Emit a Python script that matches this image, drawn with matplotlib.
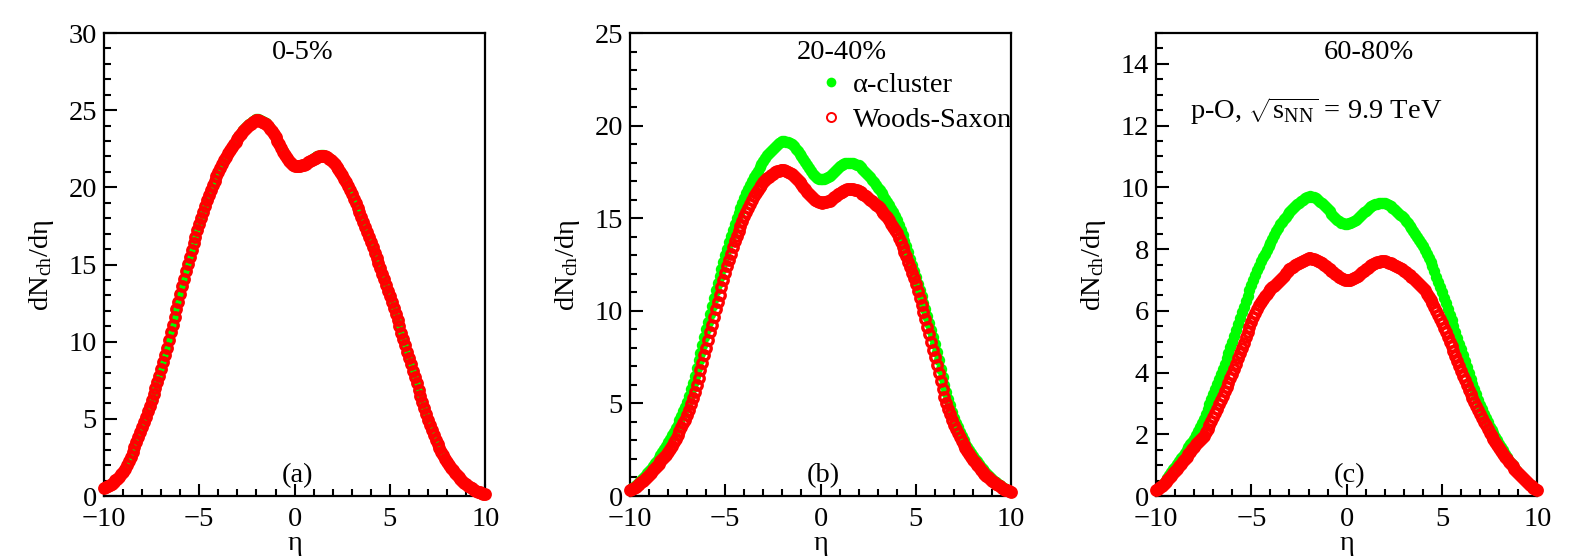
import numpy as np
import matplotlib
matplotlib.use("Agg")
import matplotlib.pyplot as plt
from matplotlib.lines import Line2D
from matplotlib.ticker import MultipleLocator

# pseudorapidity grid (step 0.1)
eta = np.round(np.arange(-10.0, 10.0001, 0.1), 1)

# panel (a) 0-5%
ws_a = [0.50, 0.57, 0.65, 0.73, 0.81, 0.90, 1.01, 1.13, 1.26, 1.40,
        1.55, 1.78, 2.03, 2.29, 2.56, 2.85, 3.16, 3.48, 3.80, 4.12,
        4.45, 4.79, 5.14, 5.49, 5.84, 6.20, 6.58, 6.97, 7.37, 7.78,
        8.20, 8.66, 9.13, 9.61, 10.10, 10.60, 11.10, 11.60, 12.10, 12.60,
        13.10, 13.59, 14.07, 14.55, 15.03, 15.50, 15.94, 16.38, 16.81, 17.23,
        17.65, 18.04, 18.42, 18.79, 19.15, 19.50, 19.82, 20.13, 20.43, 20.72,
        21.00, 21.26, 21.50, 21.75, 21.98, 22.20, 22.40, 22.60, 22.79, 22.97,
        23.15, 23.32, 23.48, 23.63, 23.77, 23.90, 24.02, 24.13, 24.23, 24.31,
        24.35, 24.35, 24.31, 24.25, 24.18, 24.10, 23.97, 23.80, 23.63, 23.45,
        23.25, 23.02, 22.78, 22.55, 22.32, 22.10, 21.90, 21.72, 21.57, 21.46,
        21.40, 21.38, 21.38, 21.40, 21.42, 21.45, 21.53, 21.62, 21.71, 21.79,
        21.85, 21.92, 21.98, 22.03, 22.05, 22.05, 22.02, 21.95, 21.86, 21.76,
        21.65, 21.50, 21.34, 21.17, 20.99, 20.80, 20.57, 20.33, 20.08, 19.82,
        19.55, 19.27, 18.98, 18.69, 18.40, 18.10, 17.78, 17.45, 17.12, 16.79,
        16.45, 16.11, 15.77, 15.43, 15.09, 14.75, 14.39, 14.03, 13.67, 13.31,
        12.95, 12.56, 12.17, 11.78, 11.39, 11.00, 10.59, 10.18, 9.77, 9.36,
        8.95, 8.54, 8.13, 7.72, 7.31, 6.90, 6.50, 6.10, 5.70, 5.32,
        4.95, 4.60, 4.27, 3.95, 3.64, 3.35, 3.10, 2.86, 2.63, 2.41,
        2.20, 2.01, 1.83, 1.66, 1.50, 1.35, 1.22, 1.09, 0.97, 0.86,
        0.75, 0.66, 0.57, 0.49, 0.42, 0.35, 0.29, 0.24, 0.19, 0.15,
        0.12]
alpha_a = [0.50, 0.57, 0.65, 0.73, 0.81, 0.90, 1.01, 1.13, 1.26, 1.40,
           1.55, 1.78, 2.03, 2.29, 2.56, 2.85, 3.16, 3.48, 3.80, 4.12,
           4.45, 4.79, 5.14, 5.49, 5.84, 6.20, 6.58, 6.97, 7.37, 7.78,
           8.20, 8.66, 9.13, 9.61, 10.10, 10.60, 11.10, 11.60, 12.10, 12.60,
           13.10, 13.59, 14.07, 14.55, 15.03, 15.50, 15.94, 16.38, 16.81, 17.23,
           17.65, 18.04, 18.42, 18.79, 19.15, 19.50, 19.82, 20.13, 20.43, 20.72,
           21.00, 21.26, 21.50, 21.75, 21.98, 22.20, 22.40, 22.60, 22.80, 22.99,
           23.18, 23.36, 23.53, 23.69, 23.83, 23.96, 24.08, 24.19, 24.29, 24.37,
           24.41, 24.41, 24.37, 24.31, 24.23, 24.14, 24.00, 23.83, 23.65, 23.46,
           23.26, 23.03, 22.79, 22.56, 22.33, 22.11, 21.91, 21.73, 21.58, 21.47,
           21.41, 21.39, 21.39, 21.41, 21.43, 21.46, 21.54, 21.63, 21.72, 21.80,
           21.87, 21.94, 22.00, 22.05, 22.07, 22.07, 22.04, 21.97, 21.88, 21.78,
           21.66, 21.51, 21.35, 21.18, 20.99, 20.80, 20.57, 20.33, 20.08, 19.82,
           19.55, 19.27, 18.98, 18.69, 18.40, 18.10, 17.78, 17.45, 17.12, 16.79,
           16.45, 16.11, 15.77, 15.43, 15.09, 14.75, 14.39, 14.03, 13.67, 13.31,
           12.95, 12.56, 12.17, 11.78, 11.39, 11.00, 10.59, 10.18, 9.77, 9.36,
           8.95, 8.54, 8.13, 7.72, 7.31, 6.90, 6.50, 6.10, 5.70, 5.32,
           4.95, 4.60, 4.27, 3.95, 3.64, 3.35, 3.10, 2.86, 2.63, 2.41,
           2.20, 2.01, 1.83, 1.66, 1.50, 1.35, 1.22, 1.09, 0.97, 0.86,
           0.75, 0.66, 0.57, 0.49, 0.42, 0.35, 0.29, 0.24, 0.19, 0.15,
           0.12]

# panel (b) 20-40%
alpha_b = [0.35, 0.42, 0.50, 0.58, 0.66, 0.75, 0.86, 0.98, 1.10, 1.22,
           1.35, 1.48, 1.62, 1.76, 1.90, 2.05, 2.21, 2.38, 2.55, 2.72,
           2.90, 3.08, 3.27, 3.46, 3.65, 3.85, 4.08, 4.32, 4.57, 4.83,
           5.10, 5.42, 5.76, 6.12, 6.50, 6.90, 7.32, 7.74, 8.16, 8.58,
           9.00, 9.42, 9.84, 10.26, 10.68, 11.10, 11.49, 11.87, 12.25, 12.62,
           13.00, 13.35, 13.70, 14.04, 14.37, 14.70, 15.00, 15.29, 15.57, 15.84,
           16.10, 16.34, 16.57, 16.79, 17.00, 17.20, 17.39, 17.57, 17.75, 17.93,
           18.10, 18.25, 18.39, 18.52, 18.64, 18.75, 18.85, 18.95, 19.04, 19.11,
           19.15, 19.16, 19.14, 19.10, 19.06, 19.00, 18.89, 18.76, 18.63, 18.49,
           18.35, 18.18, 18.01, 17.85, 17.70, 17.55, 17.41, 17.29, 17.19, 17.13,
           17.10, 17.10, 17.13, 17.18, 17.24, 17.30, 17.41, 17.52, 17.63, 17.72,
           17.80, 17.88, 17.94, 17.98, 18.00, 18.00, 17.99, 17.96, 17.92, 17.89,
           17.85, 17.76, 17.66, 17.56, 17.46, 17.35, 17.22, 17.08, 16.94, 16.80,
           16.65, 16.50, 16.35, 16.20, 16.05, 15.90, 15.71, 15.51, 15.31, 15.11,
           14.90, 14.63, 14.35, 14.07, 13.79, 13.50, 13.16, 12.82, 12.48, 12.14,
           11.80, 11.46, 11.12, 10.78, 10.44, 10.10, 9.72, 9.34, 8.96, 8.58,
           8.20, 7.76, 7.32, 6.88, 6.44, 6.00, 5.62, 5.25, 4.89, 4.54,
           4.20, 3.95, 3.70, 3.46, 3.23, 3.00, 2.82, 2.64, 2.47, 2.31,
           2.15, 2.01, 1.87, 1.73, 1.59, 1.45, 1.34, 1.23, 1.12, 1.01,
           0.90, 0.82, 0.74, 0.66, 0.58, 0.50, 0.44, 0.38, 0.32, 0.27,
           0.22]
ws_b = [0.33, 0.39, 0.45, 0.51, 0.58, 0.65, 0.74, 0.83, 0.92, 1.02,
        1.12, 1.25, 1.38, 1.51, 1.63, 1.75, 1.87, 1.98, 2.10, 2.22,
        2.35, 2.52, 2.70, 2.89, 3.09, 3.30, 3.50, 3.71, 3.92, 4.13,
        4.35, 4.64, 4.95, 5.28, 5.63, 6.00, 6.39, 6.79, 7.19, 7.59,
        8.00, 8.42, 8.84, 9.26, 9.68, 10.10, 10.49, 10.88, 11.27, 11.66,
        12.05, 12.40, 12.74, 13.08, 13.42, 13.75, 14.03, 14.31, 14.58, 14.84,
        15.10, 15.33, 15.56, 15.78, 15.99, 16.20, 16.36, 16.52, 16.67, 16.81,
        16.95, 17.05, 17.15, 17.24, 17.32, 17.40, 17.47, 17.53, 17.57, 17.60,
        17.60, 17.59, 17.56, 17.51, 17.46, 17.40, 17.30, 17.19, 17.08, 16.97,
        16.85, 16.71, 16.57, 16.44, 16.32, 16.20, 16.09, 15.99, 15.92, 15.87,
        15.85, 15.84, 15.85, 15.88, 15.91, 15.95, 16.04, 16.13, 16.22, 16.29,
        16.35, 16.42, 16.49, 16.55, 16.59, 16.60, 16.60, 16.58, 16.54, 16.50,
        16.45, 16.39, 16.32, 16.25, 16.18, 16.10, 16.01, 15.92, 15.83, 15.74,
        15.65, 15.53, 15.41, 15.30, 15.18, 15.05, 14.88, 14.71, 14.54, 14.37,
        14.20, 13.95, 13.70, 13.45, 13.20, 12.95, 12.65, 12.35, 12.05, 11.75,
        11.45, 11.07, 10.69, 10.31, 9.93, 9.55, 9.14, 8.73, 8.32, 7.91,
        7.50, 7.07, 6.64, 6.21, 5.78, 5.35, 5.03, 4.72, 4.42, 4.13,
        3.85, 3.62, 3.40, 3.18, 2.96, 2.75, 2.59, 2.43, 2.27, 2.11,
        1.95, 1.82, 1.69, 1.56, 1.43, 1.30, 1.20, 1.10, 1.00, 0.90,
        0.80, 0.73, 0.66, 0.59, 0.52, 0.45, 0.40, 0.35, 0.30, 0.25,
        0.20]

# panel (c) 60-80%
alpha_c = [0.18, 0.24, 0.30, 0.36, 0.43, 0.50, 0.59, 0.68, 0.77, 0.86,
           0.95, 1.04, 1.13, 1.22, 1.31, 1.40, 1.49, 1.58, 1.67, 1.76,
           1.85, 1.97, 2.10, 2.23, 2.36, 2.50, 2.66, 2.82, 2.98, 3.14,
           3.30, 3.46, 3.62, 3.78, 3.94, 4.10, 4.28, 4.46, 4.64, 4.82,
           5.00, 5.19, 5.38, 5.57, 5.76, 5.95, 6.13, 6.31, 6.49, 6.67,
           6.85, 7.01, 7.16, 7.31, 7.46, 7.60, 7.73, 7.85, 7.97, 8.09,
           8.20, 8.32, 8.45, 8.57, 8.69, 8.80, 8.89, 8.97, 9.05, 9.13,
           9.20, 9.27, 9.33, 9.39, 9.45, 9.50, 9.55, 9.60, 9.64, 9.68,
           9.70, 9.71, 9.70, 9.68, 9.64, 9.60, 9.54, 9.48, 9.42, 9.36,
           9.30, 9.22, 9.15, 9.08, 9.01, 8.95, 8.90, 8.86, 8.83, 8.82,
           8.82, 8.83, 8.85, 8.88, 8.91, 8.95, 9.01, 9.07, 9.13, 9.19,
           9.25, 9.30, 9.35, 9.39, 9.42, 9.45, 9.47, 9.48, 9.49, 9.49,
           9.48, 9.45, 9.42, 9.38, 9.34, 9.30, 9.24, 9.18, 9.12, 9.06,
           9.00, 8.92, 8.84, 8.76, 8.68, 8.60, 8.50, 8.40, 8.30, 8.20,
           8.10, 7.97, 7.84, 7.71, 7.58, 7.45, 7.28, 7.11, 6.94, 6.77,
           6.60, 6.42, 6.24, 6.06, 5.88, 5.70, 5.51, 5.32, 5.13, 4.94,
           4.75, 4.56, 4.37, 4.18, 3.99, 3.80, 3.63, 3.46, 3.29, 3.12,
           2.95, 2.81, 2.67, 2.53, 2.39, 2.25, 2.14, 2.03, 1.92, 1.81,
           1.70, 1.59, 1.48, 1.37, 1.26, 1.15, 1.07, 0.99, 0.91, 0.83,
           0.75, 0.68, 0.62, 0.55, 0.49, 0.42, 0.37, 0.32, 0.27, 0.22,
           0.18]
ws_c = [0.18, 0.23, 0.28, 0.33, 0.39, 0.45, 0.52, 0.59, 0.66, 0.73,
        0.80, 0.88, 0.96, 1.04, 1.12, 1.20, 1.28, 1.36, 1.44, 1.52,
        1.60, 1.67, 1.74, 1.81, 1.88, 1.95, 2.06, 2.18, 2.30, 2.42,
        2.55, 2.69, 2.83, 2.97, 3.11, 3.25, 3.39, 3.53, 3.67, 3.81,
        3.95, 4.12, 4.29, 4.46, 4.63, 4.80, 4.97, 5.14, 5.31, 5.48,
        5.65, 5.79, 5.92, 6.05, 6.18, 6.30, 6.39, 6.48, 6.56, 6.63,
        6.70, 6.76, 6.82, 6.88, 6.94, 7.00, 7.07, 7.14, 7.21, 7.28,
        7.35, 7.39, 7.43, 7.47, 7.51, 7.55, 7.59, 7.63, 7.66, 7.69,
        7.70, 7.70, 7.69, 7.67, 7.65, 7.62, 7.58, 7.54, 7.49, 7.45,
        7.40, 7.35, 7.30, 7.25, 7.20, 7.15, 7.10, 7.06, 7.03, 7.01,
        7.00, 7.00, 7.01, 7.03, 7.05, 7.08, 7.14, 7.20, 7.25, 7.30,
        7.35, 7.40, 7.45, 7.49, 7.52, 7.55, 7.57, 7.59, 7.60, 7.60,
        7.60, 7.58, 7.56, 7.54, 7.52, 7.50, 7.46, 7.42, 7.38, 7.34,
        7.30, 7.25, 7.20, 7.15, 7.10, 7.05, 6.99, 6.93, 6.87, 6.81,
        6.75, 6.66, 6.56, 6.46, 6.36, 6.25, 6.12, 5.99, 5.86, 5.73,
        5.60, 5.45, 5.30, 5.15, 5.00, 4.85, 4.69, 4.53, 4.37, 4.21,
        4.05, 3.90, 3.75, 3.60, 3.45, 3.30, 3.17, 3.04, 2.91, 2.78,
        2.65, 2.53, 2.41, 2.29, 2.17, 2.05, 1.95, 1.85, 1.75, 1.65,
        1.55, 1.46, 1.37, 1.28, 1.19, 1.10, 1.03, 0.96, 0.89, 0.82,
        0.75, 0.68, 0.62, 0.55, 0.49, 0.42, 0.37, 0.32, 0.27, 0.22,
        0.18]

panels = [
    (alpha_a, ws_a, "0-5%", "(a)", 30, 5, 1),
    (alpha_b, ws_b, "20-40%", "(b)", 25, 5, 1),
    (alpha_c, ws_c, "60-80%", "(c)", 15, 2, 0.5),
]

plt.rcParams['font.family'] = ['Liberation Serif', 'DejaVu Serif']
plt.rcParams['mathtext.fontset'] = 'custom'
plt.rcParams['mathtext.rm'] = 'Liberation Serif'
plt.rcParams['mathtext.it'] = 'Liberation Serif:italic'

FS = 20.5
GREEN = '#00ff00'
RED = '#ff0000'

fig = plt.figure(figsize=(15.78, 5.57), dpi=100)
lefts = [0.0659, 0.3992, 0.7326]

for i, (ya, yw, cent, tag, ytop, ymaj, ymin) in enumerate(panels):
    ax = fig.add_axes([lefts[i], 0.1095, 0.2416, 0.8312])
    ax.plot(eta, ya, 'o', color=GREEN, ms=8.2, mec=GREEN, mew=0, clip_on=False, zorder=3)
    ax.plot(eta, yw, 'o', color=RED, mfc='none', ms=6.8, mew=2.4, clip_on=False, zorder=4)
    ax.set_xlim(-10, 10)
    ax.set_ylim(0, ytop)
    ax.xaxis.set_major_locator(MultipleLocator(5))
    ax.xaxis.set_minor_locator(MultipleLocator(1))
    ax.yaxis.set_major_locator(MultipleLocator(ymaj))
    ax.yaxis.set_minor_locator(MultipleLocator(ymin))
    if i == 2:
        ax.set_yticks(np.arange(0, 15, 2))
    ax.tick_params(which='both', direction='in', top=False, right=False, width=1.5, labelsize=FS)
    ax.tick_params(axis='y', pad=5)
    ax.tick_params(axis='x', pad=8)
    ax.tick_params(which='major', length=9)
    ax.tick_params(which='minor', length=5)
    for s in ax.spines.values():
        s.set_linewidth(1.6)
    ax.set_xlabel('η', fontsize=FS, labelpad=-1)
    ax.set_ylabel(r'dN$_{\rm ch}$/dη', fontsize=FS, labelpad=9)
    xc = [0.52, 0.555, 0.557][i]
    ax.text(xc, 0.959, cent, transform=ax.transAxes, ha='center', va='center', fontsize=FS)
    ax.text(0.508, 0.045, tag, transform=ax.transAxes, ha='center', va='center', fontsize=FS)
    if i == 1:
        handles = [Line2D([], [], ls='none', marker='o', color=GREEN, ms=7, mew=0),
                   Line2D([], [], ls='none', marker='o', mfc='none', mec=RED, ms=6.5, mew=1.4)]
        ax.legend(handles, ['α-cluster', 'Woods-Saxon'], loc='upper left',
                  bbox_to_anchor=(0.4986, 0.915), frameon=False, fontsize=FS,
                  handlelength=0.8, handletextpad=0.35, borderpad=0, borderaxespad=0,
                  labelspacing=0.3)
    if i == 2:
        ax.text(0.09, 0.832, r'p-O, $\sqrt{\rm s_{NN}}$ = 9.9 TeV', transform=ax.transAxes,
                ha='left', va='center', fontsize=FS)

fig.savefig('out.png', dpi=100)
